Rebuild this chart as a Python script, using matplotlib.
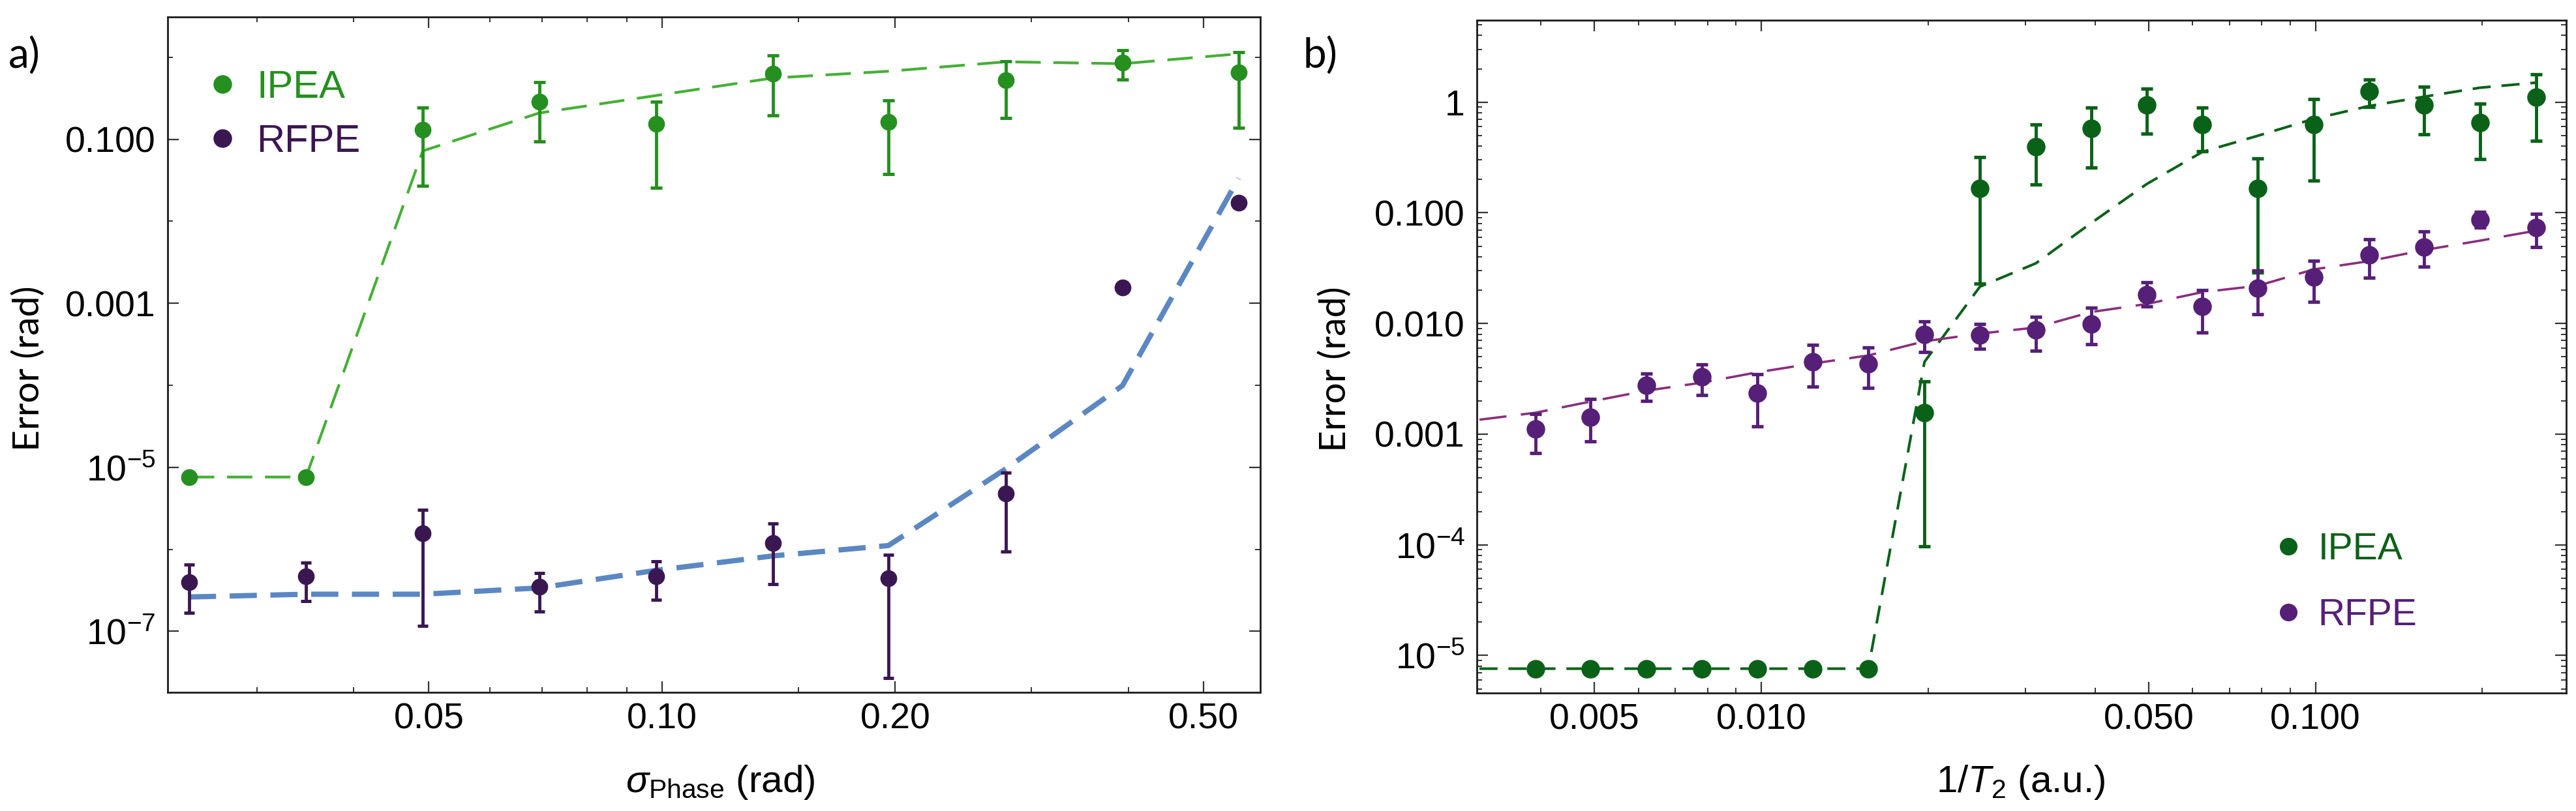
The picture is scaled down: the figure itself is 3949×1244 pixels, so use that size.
import numpy as np
import matplotlib
matplotlib.use("Agg")
import matplotlib.pyplot as plt
from matplotlib.ticker import FixedLocator, FixedFormatter, NullFormatter, LogLocator
from matplotlib.lines import Line2D

plt.rcParams['font.family'] = ['Liberation Sans', 'DejaVu Sans']
plt.rcParams['mathtext.fontset'] = 'custom'
plt.rcParams['mathtext.rm'] = 'Liberation Sans'
plt.rcParams['mathtext.it'] = 'Liberation Sans:italic'
plt.rcParams['mathtext.bf'] = 'Liberation Sans:bold'
plt.rcParams['lines.scale_dashes'] = False

nan = np.nan

# ---------------- panel a) ----------------
sigma_phase = [0.0245, 0.0347, 0.0491, 0.0694, 0.0982, 0.139, 0.196, 0.278, 0.393, 0.555]
ipea_a = [7.6e-6, 7.6e-6, 0.131, 0.286, 0.155, 0.634, 0.163, 0.526, 0.859, 0.659]
ipea_a_hi = [nan, nan, 0.243, 0.499, 0.286, 1.06, 0.298, 0.90, 1.22, 1.16]
ipea_a_lo = [nan, nan, 0.0269, 0.094, 0.0255, 0.196, 0.0373, 0.183, 0.533, 0.138]
ipea_a_fit = [7.6e-6, 7.6e-6, 0.072, 0.209, 0.341, 0.558, 0.675, 0.88, 0.834, 1.10]
rfpe_a = [3.94e-7, 4.69e-7, 1.58e-6, 3.52e-7, 4.69e-7, 1.20e-6, 4.41e-7, 4.8e-6, 1.55e-3, 0.0168]
rfpe_a_hi = [6.45e-7, 6.92e-7, 3.05e-6, 5.16e-7, 7.08e-7, 2.06e-6, 8.53e-7, 8.55e-6, nan, nan]
rfpe_a_lo = [1.68e-7, 2.33e-7, 1.17e-7, 1.75e-7, 2.41e-7, 3.77e-7, 2.7e-8, 9.3e-7, nan, nan]
rfpe_a_fit = [2.62e-7, 2.83e-7, 2.83e-7, 3.38e-7, 5.53e-7, 8.3e-7, 1.11e-6, 9.6e-6, 9.9e-5, 0.0333]

a_xticks = [0.05, 0.1, 0.2, 0.5]
a_xticklabels = ['0.05', '0.10', '0.20', '0.50']
a_xminor = [0.03, 0.04, 0.06, 0.07, 0.08, 0.09, 0.15, 0.3, 0.4]
a_yticks = [1e-1, 1e-3, 1e-5, 1e-7]
a_yticklabels = ['0.100', '0.001', r'$10^{-5}$', r'$10^{-7}$']
a_yminor = [1.0, 1e-2, 1e-4, 1e-6]

# ---------------- panel b) ----------------
inv_T2 = [0.00391, 0.00492, 0.00620, 0.00781, 0.00984, 0.0124, 0.0156, 0.0197, 0.0248,
          0.0313, 0.0394, 0.0496, 0.0625, 0.0787, 0.0992, 0.125, 0.157, 0.198, 0.25]
ipea_b = [7.6e-6, 7.6e-6, 7.6e-6, 7.6e-6, 7.6e-6, 7.6e-6, 7.6e-6, 1.56e-3, 0.167,
          0.398, 0.575, 0.938, 0.625, 0.167, 0.625, 1.26, 0.938, 0.65, 1.11]
ipea_b_hi = [nan, nan, nan, nan, nan, nan, nan, 3.0e-3, 0.32,
             0.625, 0.89, 1.33, 0.895, 0.31, 1.07, 1.61, 1.37, 0.975, 1.79]
ipea_b_lo = [nan, nan, nan, nan, nan, nan, nan, 9.7e-5, 0.023,
             0.18, 0.255, 0.517, 0.361, 0.029, 0.196, 0.911, 0.511, 0.305, 0.447]
rfpe_b = [1.12e-3, 1.43e-3, 2.76e-3, 3.28e-3, 2.34e-3, 4.52e-3, 4.35e-3, 8.0e-3, 7.9e-3,
          8.7e-3, 9.86e-3, 0.0183, 0.0143, 0.0208, 0.0264, 0.0414, 0.049, 0.0869, 0.0738]
rfpe_b_hi = [1.53e-3, 2.07e-3, 3.52e-3, 4.28e-3, 3.46e-3, 6.43e-3, 6.1e-3, 0.0104, 9.95e-3,
             0.0115, 0.0138, 0.0236, 0.0199, 0.0299, 0.0371, 0.0574, 0.0675, 0.1017, 0.0977]
rfpe_b_lo = [6.7e-4, 8.6e-4, 2.0e-3, 2.25e-3, 1.17e-3, 2.7e-3, 2.63e-3, 5.55e-3, 5.9e-3,
             5.7e-3, 6.46e-3, 0.0142, 8.3e-3, 0.0121, 0.0156, 0.0259, 0.0325, 0.0734, 0.049]
fit_T2 = [0.0031, 0.00391, 0.00492, 0.00620, 0.00781, 0.00984, 0.0124, 0.0156, 0.0197, 0.0248,
          0.0313, 0.0394, 0.0496, 0.0625, 0.0787, 0.0992, 0.125, 0.157, 0.198, 0.25]
ipea_b_fit = [7.6e-6, 7.6e-6, 7.6e-6, 7.6e-6, 7.6e-6, 7.6e-6, 7.6e-6, 7.6e-6, 4.5e-3, 0.0215,
              0.035, 0.081, 0.182, 0.355, 0.497, 0.705, 0.923, 1.12, 1.35, 1.50]
rfpe_b_fit = [1.35e-3, 1.56e-3, 1.97e-3, 2.47e-3, 2.92e-3, 3.62e-3, 4.35e-3, 5.14e-3, 6.9e-3, 8.1e-3,
              9.2e-3, 0.0127, 0.0150, 0.0192, 0.0219, 0.0308, 0.0366, 0.0461, 0.056, 0.069]

b_xticks = [0.005, 0.01, 0.05, 0.1]
b_xticklabels = ['0.005', '0.010', '0.050', '0.100']
b_xminor = [0.004, 0.006, 0.007, 0.008, 0.009, 0.02, 0.03, 0.04, 0.06, 0.07, 0.08, 0.09, 0.2]
b_yticks = [1.0, 0.1, 0.01, 0.001, 1e-4, 1e-5]
b_yticklabels = ['1', '0.100', '0.010', '0.001', r'$10^{-4}$', r'$10^{-5}$']

# colours
C_A_IPEA = '#25901f'
C_A_IPEA_FIT = '#44b035'
C_A_RFPE = '#3b1752'
C_A_RFPE_FIT = '#5b87c3'
C_B_IPEA = '#0a6218'
C_B_RFPE = '#561f78'
C_B_RFPE_FIT = '#8a2e7d'

W, H = 3949, 1244
fig = plt.figure(figsize=(W / 100, H / 100), dpi=100)


def px_to_fig(x, y):
    return x / W, 1 - y / H


axa = fig.add_axes([257 / W, 1 - 1062 / H, (1932 - 257) / W, (1062 - 26) / H])
axb = fig.add_axes([2264 / W, 1 - 1063 / H, (3934 - 2264) / W, (1063 - 31) / H])


def errbars(ax, x, y, lo, hi, color, ms, lw, cap, capw):
    x = np.array(x); y = np.array(y); lo = np.array(lo); hi = np.array(hi)
    m = np.isfinite(lo) & np.isfinite(hi)
    ax.errorbar(x[m], y[m], yerr=[y[m] - lo[m], hi[m] - y[m]], fmt='none',
                ecolor=color, elinewidth=lw, capsize=cap, capthick=capw, zorder=4)
    ax.plot(x, y, 'o', color=color, ms=ms, mec=color, zorder=5, ls='none')


# ---- panel a
axa.plot(sigma_phase, ipea_a_fit, color=C_A_IPEA_FIT, lw=3.0, dashes=(28, 14), zorder=3)
axa.plot(sigma_phase, rfpe_a_fit, color=C_A_RFPE_FIT, lw=5.8, dashes=(30, 15), zorder=3)
errbars(axa, sigma_phase, ipea_a, ipea_a_lo, ipea_a_hi, C_A_IPEA, 17.5, 3.5, 6.2, 3.6)
errbars(axa, sigma_phase, rfpe_a, rfpe_a_lo, rfpe_a_hi, C_A_RFPE, 17.5, 3.5, 6.0, 3.6)

axa.set_xscale('log'); axa.set_yscale('log')
axa.set_xlim(0.0230, 0.592); axa.set_ylim(1.8e-8, 3.1)
axa.xaxis.set_major_locator(FixedLocator(a_xticks))
axa.xaxis.set_major_formatter(FixedFormatter(a_xticklabels))
axa.xaxis.set_minor_locator(FixedLocator(a_xminor))
axa.xaxis.set_minor_formatter(NullFormatter())
axa.yaxis.set_major_locator(FixedLocator(a_yticks))
axa.yaxis.set_major_formatter(FixedFormatter(a_yticklabels))
axa.yaxis.set_minor_locator(FixedLocator(a_yminor))
axa.yaxis.set_minor_formatter(NullFormatter())

# ---- panel b
axb.plot(fit_T2, ipea_b_fit, color=C_B_IPEA, lw=2.9, dashes=(20, 12), zorder=3)
axb.plot(fit_T2, rfpe_b_fit, color=C_B_RFPE_FIT, lw=2.6, dashes=(30, 16), zorder=3)
errbars(axb, inv_T2, ipea_b, ipea_b_lo, ipea_b_hi, C_B_IPEA, 19.5, 3.5, 6.5, 3.8)
errbars(axb, inv_T2, rfpe_b, rfpe_b_lo, rfpe_b_hi, C_B_RFPE, 19.5, 3.5, 6.5, 3.8)

axb.set_xscale('log'); axb.set_yscale('log')
axb.set_xlim(0.003067, 0.2834); axb.set_ylim(4.58e-6, 5.5)
axb.xaxis.set_major_locator(FixedLocator(b_xticks))
axb.xaxis.set_major_formatter(FixedFormatter(b_xticklabels))
axb.xaxis.set_minor_locator(FixedLocator(b_xminor))
axb.xaxis.set_minor_formatter(NullFormatter())
axb.yaxis.set_major_locator(FixedLocator(b_yticks))
axb.yaxis.set_major_formatter(FixedFormatter(b_yticklabels))
axb.yaxis.set_minor_locator(LogLocator(base=10, subs=np.arange(2, 10)))
axb.yaxis.set_minor_formatter(NullFormatter())

for ax in (axa, axb):
    for s in ax.spines.values():
        s.set_linewidth(2.0)
        s.set_color('#1a1a1a')
    ax.tick_params(which='both', direction='in', top=True, right=True, color='#333333')
    ax.tick_params(which='major', length=12, width=1.6, labelsize=40)
    ax.tick_params(which='minor', length=6, width=1.4)
    ax.tick_params(axis='y', which='major', pad=13)
    ax.tick_params(axis='x', which='major', pad=11)

# legends
ha = [Line2D([], [], marker='o', ls='none', color=C_A_IPEA, ms=19.5),
      Line2D([], [], marker='o', ls='none', color=C_A_RFPE, ms=19.5)]
axa.legend(ha, ['IPEA', 'RFPE'], loc='upper left', bbox_to_anchor=(0.0392, 0.922),
           frameon=False, fontsize=43, handlelength=0.6, handletextpad=0.58,
           labelspacing=0.47, borderpad=0, borderaxespad=0,
           labelcolor=[C_A_IPEA, C_A_RFPE])
hb = [Line2D([], [], marker='o', ls='none', color=C_B_IPEA, ms=18.5),
      Line2D([], [], marker='o', ls='none', color=C_B_RFPE, ms=18.5)]
axb.legend(hb, ['IPEA', 'RFPE'], loc='upper left', bbox_to_anchor=(0.7348, 0.2393),
           frameon=False, fontsize=41, handlelength=0.6, handletextpad=0.5,
           labelspacing=0.83, borderpad=0, borderaxespad=0,
           labelcolor=[C_B_IPEA, C_B_RFPE])

# axis labels and panel tags
fig.text(*px_to_fig(1104, 1200), r'$\sigma_{\mathrm{Phase}}$ (rad)', ha='center', va='center', fontsize=42)
fig.text(*px_to_fig(3098, 1200), r'1/$T_2$ (a.u.)', ha='center', va='center', fontsize=42)
fig.text(*px_to_fig(44, 565), 'Error (rad)', rotation=90, ha='center', va='center',
         fontsize=41, family=['Lato', 'DejaVu Sans'])
fig.text(*px_to_fig(2047, 566), 'Error (rad)', rotation=90, ha='center', va='center',
         fontsize=41, family=['Lato', 'DejaVu Sans'])
fig.text(*px_to_fig(37, 86), 'a)', ha='center', va='center', fontsize=46, family=['Lato', 'DejaVu Sans'])
fig.text(*px_to_fig(2024, 86), 'b)', ha='center', va='center', fontsize=46, family=['Lato', 'DejaVu Sans'])

fig.savefig('out.png', dpi=100)
